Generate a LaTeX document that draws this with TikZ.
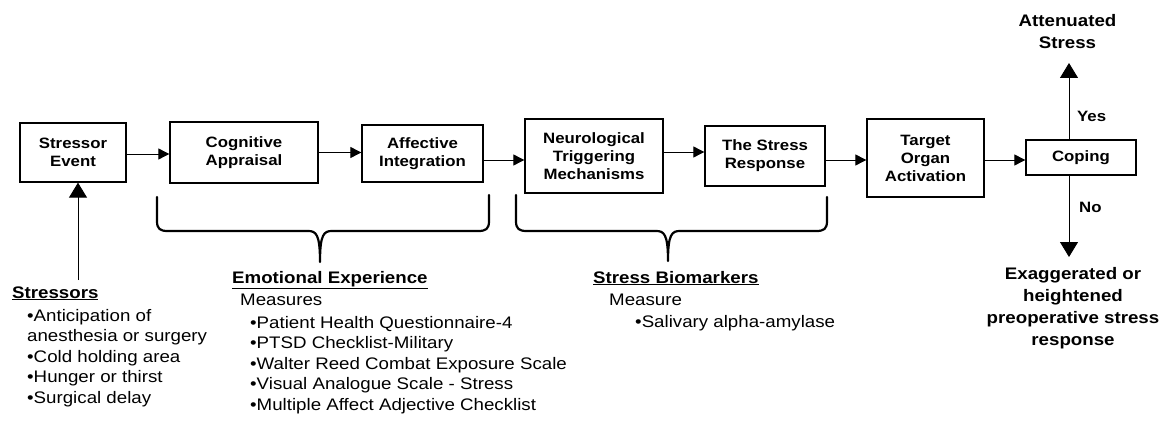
\documentclass[tikz,border=0pt]{standalone}
\usepackage{fontspec}
\setmainfont{Liberation Sans}[FakeStretch=1.12]
\usetikzlibrary{arrows.meta}
\newcommand{\myboxfont}{\fontsize{15}{18}\selectfont\bfseries}
\newcommand{\mybodyfont}{\fontsize{16.7}{20.5}\selectfont}
\newcommand{\myheadfont}{\fontsize{16.7}{22}\selectfont\bfseries}
\tikzset{
  box/.style={draw, line width=1.3pt, inner sep=2pt, align=center, font=\myboxfont},
  flow/.style={line width=0.9pt, -{Triangle[length=11pt,width=11pt]}},
  bigflow/.style={line width=0.9pt, -{Triangle[length=15pt,width=18pt]}},
  brace/.style={line width=2.2pt, line cap=round, line join=round},
  txt/.style={inner sep=0pt, align=left, font=\mybodyfont},
  hd/.style={inner sep=0pt, font=\myheadfont},
  lbl/.style={inner sep=0pt, font=\myboxfont},
  outc/.style={inner sep=0pt, align=center, font=\myheadfont},
}
\begin{document}
\begin{tikzpicture}[x=1pt, y=-1pt]
\useasboundingbox (0,0) rectangle (1167,422);

% flow boxes
\node[box, minimum width=106pt, minimum height=59pt] (stressor) at (73,152.5) {Stressor\\Event};
\node[box, minimum width=148pt, minimum height=61pt] (cognitive) at (244,152.5) {Cognitive\\Appraisal};
\node[box, minimum width=121pt, minimum height=57pt] (affective) at (422.5,153.5) {Affective\\Integration};
\node[box, minimum width=138pt, minimum height=74pt] (neuro) at (594,156) {Neurological\\Triggering\\Mechanisms};
\node[box, minimum width=120pt, minimum height=60pt] (response) at (765,156) {The Stress\\Response};
\node[box, minimum width=117pt, minimum height=78pt] (target) at (925.5,158) {Target\\Organ\\Activation};
\node[box, minimum width=110pt, minimum height=35pt] (coping) at (1081,157.5) {Coping};

% flow arrows
\draw[flow] ([yshift=-1.5pt]stressor.east) -- ([yshift=-1.5pt]stressor.east -| cognitive.west);
\draw[flow] (cognitive.east) -- (cognitive.east -| affective.west);
\draw[flow] ([yshift=-6.5pt]affective.east) -- ([yshift=-6.5pt]affective.east -| neuro.west);
\draw[flow] ([yshift=4pt]neuro.east) -- ([yshift=4pt]neuro.east -| response.west);
\draw[flow] ([yshift=-4pt]response.east) -- ([yshift=-4pt]response.east -| target.west);
\draw[flow] ([yshift=-2pt]target.east) -- ([yshift=-2pt]target.east -| coping.west);

% outcomes
\node[outc, anchor=north] (att) at (1067.5,14) {Attenuated\\Stress};
\node[outc, anchor=north] (exag) at (1073,267) {Exaggerated or\\heightened\\preoperative stress\\response};
\coordinate (yesend) at (1069,63);
\coordinate (noend) at (1069,257);
\draw[bigflow] (coping.north -| yesend) -- (yesend);
\draw[bigflow] (coping.south -| noend) -- (noend);
\node[lbl, anchor=base west] (yes) at (1077,122) {Yes};
\node[lbl, anchor=base west] (no) at (1079,213) {No};

% stressors
\node[hd, anchor=base west] (stressorshead) at (12,298) {\underline{Stressors}};
\node[txt, anchor=north west] (stressorslist) at (27,309) {•Anticipation of\\anesthesia or surgery\\•Cold holding area\\•Hunger or thirst\\•Surgical delay};
\coordinate (sfoot) at (78,280);
\draw[bigflow] (sfoot) -- (sfoot |- stressor.south);

% braces
\draw[brace] (157,197) -- (157,221) .. controls (157,229) and (160,231) .. (168,231) -- (308,231)
  .. controls (316,231) and (320,234) .. (320,262)
  .. controls (320,234) and (324,231) .. (332,231) -- (478,231)
  .. controls (486,231) and (489,229) .. (489,221) -- (489,195);
\draw[brace] (516,195) -- (516,221) .. controls (516,229) and (519,231) .. (527,231) -- (656,231)
  .. controls (664,231) and (668,234) .. (668,261)
  .. controls (668,234) and (672,231) .. (680,231) -- (816,231)
  .. controls (824,231) and (827,229) .. (827,221) -- (827,197);

% emotional experience
\node[hd, anchor=base west] (emohead) at (232,283) {\underline{Emotional Experience}};
\node[txt, anchor=base west] (emomeas) at (240,305) {Measures};
\node[txt, anchor=north west] (emolist) at (250,316) {•Patient Health Questionnaire-4\\•PTSD Checklist-Military\\•Walter Reed Combat Exposure Scale\\•Visual Analogue Scale - Stress\\•Multiple Affect Adjective Checklist};

% stress biomarkers
\node[hd, anchor=base west] (biohead) at (593,283) {\underline{Stress Biomarkers}};
\node[txt, anchor=base west] (biomeas) at (609,305) {Measure};
\node[txt, anchor=base west] (biolist) at (635,327) {•Salivary alpha-amylase};
\end{tikzpicture}
\end{document}
